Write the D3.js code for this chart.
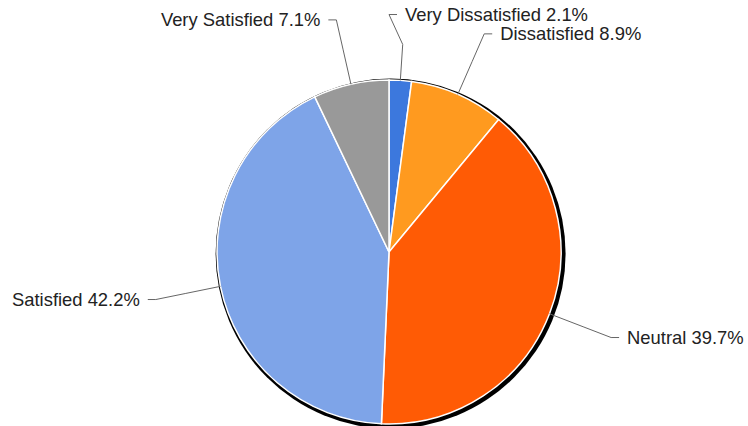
<!DOCTYPE html>
<html>
<head>
<meta charset="utf-8">
<script src="https://cdn.jsdelivr.net/npm/d3@7"></script>
<style>
	body { margin: 0; background: #fff; }
	text { font-family: "Liberation Sans", Arial, sans-serif; }
</style>
</head>
<body>
<script>
// slice data, clockwise from 12 o'clock
const categories = ["Very Dissatisfied", "Dissatisfied", "Neutral", "Satisfied", "Very Satisfied"];
const shares = [2.1, 8.9, 39.7, 42.2, 7.1];
const colours = ["#3c78dd", "#ff9a1f", "#ff5b05", "#7ea4e8", "#999999"];

function drawPie() {
	let width = 748,
		height = 426,
		cx = 389,
		cy = 252,
		radius = 172;

	let svg = d3.select("body")
		.append("svg")
		.attr("width", width)
		.attr("height", height);

	let g = svg.append("g")
		.attr("transform", "translate(" + cx + "," + cy + ")");

	let data = categories.map((c, i) => ({ name: c, value: shares[i], colour: colours[i] }));

	let pie = d3.pie()
		.sort(null)
		.value((d) => d.value);

	let arcs = pie(data);

	let arc = d3.arc()
		.innerRadius(0)
		.outerRadius(radius);

	// dark shadow ring under the pie
	g.append("circle")
		.attr("cx", 1.6)
		.attr("cy", 1.6)
		.attr("r", radius + 3)
		.attr("fill", "#000");

	g.selectAll("path.slice")
		.data(arcs)
		.enter()
		.append("path")
		.attr("class", "slice")
		.attr("d", arc)
		.attr("fill", (d) => d.data.colour)
		.attr("stroke", "#fff")
		.attr("stroke-width", 1.5);

	// leader lines: edge -> knee -> elbow -> short stub, then the text
	let pointAt = (a, r) => [Math.sin(a) * r, -Math.cos(a) * r];

	arcs.forEach((d) => {
		let a = (d.startAngle + d.endAngle) / 2;
		let side = Math.sin(a) >= 0 ? 1 : -1;
		let edge = pointAt(a, radius);
		let knee = pointAt(a, radius + 36);
		let elbow = pointAt(a, radius + 66);
		// label right at the top gets pulled onto the centre line
		if (Math.abs(elbow[0]) < 20) elbow[0] = 0;
		let stub = [elbow[0] + side * 8, elbow[1]];

		g.append("polyline")
			.attr("points", [edge, knee, elbow, stub].map((p) => p.join(",")).join(" "))
			.attr("fill", "none")
			.attr("stroke", "#666")
			.attr("stroke-width", 1);

		g.append("text")
			.attr("x", stub[0] + side * 8)
			.attr("y", stub[1])
			.attr("dy", "0.35em")
			.attr("text-anchor", side > 0 ? "start" : "end")
			.attr("fill", "#222")
			.style("font-size", "18.4px")
			.text(d.data.name + " " + d.data.value.toFixed(1) + "%");
	});
}

window.addEventListener("load", drawPie);
</script>
</body>
</html>
